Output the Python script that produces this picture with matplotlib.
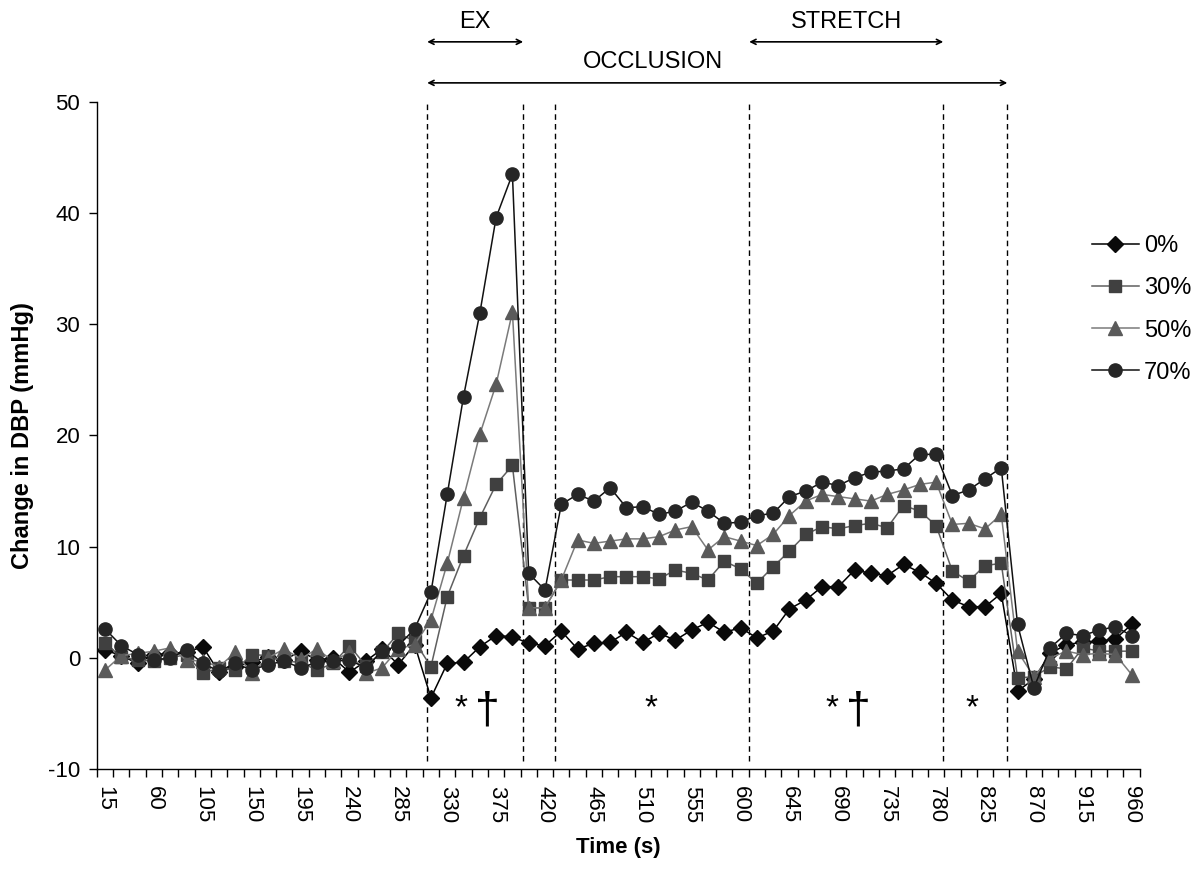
import matplotlib
matplotlib.use("Agg")
import matplotlib.pyplot as plt
from matplotlib import font_manager
import numpy as np

# pick a narrow sans face if one is installed
available = {f.name for f in font_manager.fontManager.ttflist}
NARROW = next((f for f in ["Liberation Sans Narrow", "Arial Narrow", "Liberation Sans", "DejaVu Sans"]
               if f in available), "DejaVu Sans")
REGULAR = next((f for f in ["Liberation Sans", "Arial", "DejaVu Sans"] if f in available), "DejaVu Sans")

plt.rcParams.update({
    "font.family": NARROW,
    "font.size": 15,
    "axes.linewidth": 1.0,
    "axes.spines.top": False,
    "axes.spines.right": False,
    "axes.unicode_minus": False,
})

# ---------------------------------------------------------------------------
# Data: change in diastolic blood pressure, 15 s bins
# ---------------------------------------------------------------------------
time_s = list(range(15, 961, 15))

dbp_0 = [0.7, 0.2, -0.5, 0.3, 0.4, 0.5, 1.0, -1.3, -0.8, -0.4,
         0.1, -0.2, 0.6, -0.2, 0.0, -1.3, -0.3, 0.8, -0.6, 1.2,
         -3.6, -0.5, -0.4, 1.0, 2.0, 1.9, 1.3, 1.1, 2.4, 0.8,
         1.3, 1.4, 2.3, 1.4, 2.2, 1.6, 2.5, 3.2, 2.3, 2.7,
         1.8, 2.4, 4.4, 5.2, 6.4, 6.4, 7.9, 7.6, 7.4, 8.4,
         7.7, 6.7, 5.2, 4.6, 4.6, 5.8, -3.0, -1.9, 0.4, 1.2,
         1.4, 1.5, 1.7, 3.0]

dbp_30 = [1.3, 0.1, -0.2, -0.3, 0.0, 0.3, -1.4, -0.9, -1.1, 0.3,
          0.2, -0.3, -0.4, -1.1, -0.5, 1.1, -0.7, 0.5, 2.2, 1.5,
          -0.8, 5.5, 9.2, 12.6, 15.6, 17.3, 4.5, 4.5, 7.0, 7.0,
          7.0, 7.3, 7.3, 7.3, 7.1, 7.9, 7.6, 7.0, 8.7, 8.0,
          6.7, 8.2, 9.6, 11.1, 11.8, 11.6, 11.9, 12.1, 11.7, 13.7,
          13.2, 11.9, 7.8, 6.9, 8.3, 8.5, -1.8, -1.7, -0.8, -1.0,
          0.9, 0.6, 0.6, 0.6]

dbp_50 = [-1.1, 0.2, 0.4, 0.6, 0.9, -0.2, -0.3, -0.8, 0.5, -1.4,
          0.0, 0.8, -0.1, 0.8, -0.3, 0.5, -1.4, -0.9, 0.8, 1.2,
          3.4, 8.5, 14.4, 20.1, 24.6, 31.1, 4.5, 4.5, 7.0, 10.6,
          10.3, 10.5, 10.7, 10.7, 10.9, 11.5, 11.8, 9.7, 10.9, 10.5,
          10.1, 11.1, 12.8, 14.1, 14.7, 14.5, 14.3, 14.1, 14.7, 15.1,
          15.6, 15.8, 12.0, 12.1, 11.6, 12.9, 0.6, -1.7, 0.0, 0.6,
          0.3, 0.4, 0.3, -1.5]

dbp_70 = [2.6, 1.1, 0.3, -0.2, 0.0, 0.7, -0.5, -1.2, -0.5, -1.1,
          -0.6, -0.3, -0.9, -0.4, -0.3, -0.2, -0.9, 0.6, 1.1, 2.6,
          5.9, 14.7, 23.5, 31.0, 39.6, 43.5, 7.6, 6.1, 13.8, 14.7,
          14.1, 15.3, 13.5, 13.6, 12.9, 13.2, 14.0, 13.2, 12.1, 12.2,
          12.8, 13.0, 14.5, 15.0, 15.8, 15.5, 16.2, 16.7, 16.8, 17.0,
          18.3, 18.3, 14.6, 15.1, 16.1, 17.1, 3.0, -2.7, 0.9, 2.2,
          2.0, 2.5, 2.8, 2.0]

labels = ["0%", "30%", "50%", "70%"]

# phase boundaries (in bin units) and the significance marks below the traces
dividers = [19.77, 25.66, 27.62, 39.53, 51.44, 55.37]
star_x = [21.85, 33.5, 44.6, 53.2]
dagger_x = [23.45, 46.2]

# ---------------------------------------------------------------------------
# Figure
# ---------------------------------------------------------------------------
fig = plt.figure(figsize=(11.96, 8.86), dpi=100, facecolor="white")
ax = fig.add_axes([0.081, 0.132, 0.872, 0.753])

x = np.arange(len(time_s))
styles = [
    dict(marker="D", ms=8, color="#000000", mfc="#0a0a0a", mec="#0a0a0a"),
    dict(marker="s", ms=8.5, color="#5f5f5f", mfc="#404040", mec="#404040"),
    dict(marker="^", ms=10.5, color="#7a7a7a", mfc="#5a5a5a", mec="#5a5a5a"),
    dict(marker="o", ms=9.5, color="#111111", mfc="#262626", mec="#262626"),
]
handles = []
for series, lab, st in zip([dbp_0, dbp_30, dbp_50, dbp_70], labels, styles):
    h, = ax.plot(x, series, lw=1.1, label=lab, zorder=3, **st)
    handles.append(h)

for d in dividers:
    ax.plot([d, d], [-9.3, 50], ls=(0, (4, 3)), color="black", lw=1.0, zorder=2)

for sx in star_x:
    ax.text(sx, -4.6, "*", ha="center", va="center", fontsize=24, family=REGULAR)
for dx in dagger_x:
    ax.text(dx, -4.8, "\u2020", ha="center", va="center", fontsize=32, family=REGULAR)

ax.set_xlim(-0.5, len(time_s) - 0.5)
ax.set_ylim(-10, 50)
ax.set_yticks(range(-10, 51, 10))
ax.tick_params(axis="y", direction="out", length=6, width=1, labelsize=16, pad=6)

# category ticks at bin edges, labels every third bin
ax.set_xticks(np.arange(-0.5, len(time_s), 1.0), minor=True)
ax.set_xticks(x[::3])
ax.set_xticklabels([str(t) for t in time_s[::3]], rotation=-90, fontsize=16)
ax.tick_params(axis="x", which="major", length=0, pad=12)
ax.tick_params(axis="x", which="minor", direction="out", length=6, width=1)

ax.set_xlabel("Time (s)", fontsize=16, fontweight="bold", labelpad=10)
ax.set_ylabel("Change in DBP (mmHg)", fontsize=17, fontweight="bold", family=REGULAR, labelpad=10)

# phase arrows above the plot
trans = ax.get_xaxis_transform()
arrow_kw = dict(arrowstyle="<->", color="black", lw=1.2, shrinkA=0, shrinkB=0, mutation_scale=9)
ax.annotate("", xy=(dividers[0], 1.09), xytext=(dividers[1], 1.09), xycoords=trans, arrowprops=arrow_kw)
ax.annotate("", xy=(dividers[3], 1.09), xytext=(dividers[4], 1.09), xycoords=trans, arrowprops=arrow_kw)
ax.annotate("", xy=(dividers[0], 1.0285), xytext=(dividers[5], 1.0285), xycoords=trans, arrowprops=arrow_kw)
ax.text((dividers[0] + dividers[1]) / 2, 1.12, "EX", transform=trans, ha="center", va="center", fontsize=17)
ax.text((dividers[3] + dividers[4]) / 2, 1.12, "STRETCH", transform=trans, ha="center", va="center", fontsize=17)
ax.text(33.6, 1.06, "OCCLUSION", transform=trans, ha="center", va="center", fontsize=17)

fig.legend(handles=handles, loc="upper left", bbox_to_anchor=(0.905, 0.745), frameon=False,
           fontsize=17, handlelength=2.0, handletextpad=0.2, labelspacing=0.85, borderaxespad=0)

fig.savefig("out.png", dpi=100, facecolor="white")
